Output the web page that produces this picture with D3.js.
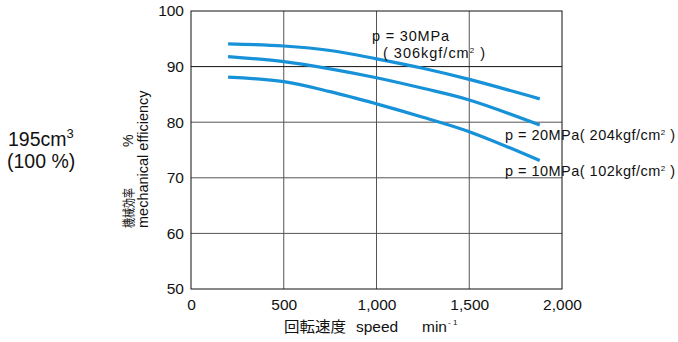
<!DOCTYPE html>
<html><head><meta charset="utf-8">
<script src="https://cdn.jsdelivr.net/npm/d3@7"></script>
<style>body{margin:0;background:#fff}svg{display:block}text{font-family:"Liberation Sans",Arial,sans-serif;fill:#111}</style>
</head><body><svg id="c" width="678" height="342"></svg>
<script>
const speeds = [200, 500, 750, 1000, 1250, 1500, 1880];
const eff30 = [94.1, 93.7, 92.9, 91.4, 89.7, 87.7, 84.2];
const eff20 = [91.8, 90.9, 89.6, 88.0, 86.1, 84.0, 79.5];
const eff10 = [88.1, 87.3, 85.5, 83.3, 80.9, 78.3, 73.1];
const xTicks = [0, 500, 1000, 1500, 2000];
const yTicks = [50, 60, 70, 80, 90, 100];

const svg = d3.select("#c");
const x = d3.scaleLinear().domain([0, 2000]).range([191, 562]);
const y = d3.scaleLinear().domain([50, 100]).range([289, 11]);
const LAT = '"Liberation Sans",Arial,sans-serif';
const CJK = '"Noto Sans CJK JP",sans-serif';

// grid
svg.append("g").selectAll("line").data(xTicks.slice(1, -1)).join("line")
  .attr("x1", d => x(d)).attr("x2", d => x(d)).attr("y1", y(100)).attr("y2", y(50))
  .attr("stroke", "#555").attr("stroke-width", 1);
svg.append("g").selectAll("line").data(yTicks.slice(1, -1)).join("line")
  .attr("x1", x(0)).attr("x2", x(2000)).attr("y1", d => y(d)).attr("y2", d => y(d))
  .attr("stroke", d => d === 90 ? "#111" : "#555").attr("stroke-width", 1);
svg.append("rect").attr("x", x(0)).attr("y", y(100)).attr("width", x(2000) - x(0)).attr("height", y(50) - y(100))
  .attr("fill", "none").attr("stroke", "#111").attr("stroke-width", 1);

// axes (labels only)
const xa = svg.append("g").attr("transform", `translate(0,${y(50)})`)
  .call(d3.axisBottom(x).tickValues(xTicks).tickSize(0).tickPadding(10).tickFormat(d3.format(",")));
const ya = svg.append("g").attr("transform", `translate(${x(0)},0)`)
  .call(d3.axisLeft(y).tickValues(yTicks).tickSize(0).tickPadding(7));
[xa, ya].forEach(a => { a.select(".domain").remove(); a.selectAll("text").style("font-size", "15.5px").attr("fill", "#111").style("font-family", LAT); });

// curves
const line = d3.line().x(d => x(d[0])).y(d => y(d[1])).curve(d3.curveCatmullRom.alpha(0.5));
[eff30, eff20, eff10].forEach(s => {
  svg.append("path").datum(speeds.map((v, i) => [v, s[i]])).attr("d", line)
    .attr("fill", "none").attr("stroke", "#1791d8").attr("stroke-width", 3.2);
});

// curve labels
function lab(tx, ty, len, fs, parts) {
  const t = svg.append("text").attr("x", tx).attr("y", ty).style("font-size", fs + "px")
    .attr("textLength", len).attr("lengthAdjust", "spacing");
  parts.forEach(p => {
    const ts = t.append("tspan").text(p.t);
    if (p.sup) ts.attr("dy", -5).style("font-size", "8px");
    if (p.down) ts.attr("dy", 5);
  });
}
lab(372, 41, 77, 14.5, [{t: "p = 30MPa"}]);
lab(383, 58, 102, 14.5, [{t: "( 306kgf/cm"}, {t: "2", sup: 1}, {t: " )", down: 1}]);
lab(505, 140, 170, 14.5, [{t: "p = 20MPa( 204kgf/cm"}, {t: "2", sup: 1}, {t: " )", down: 1}]);
lab(505, 176, 170, 14.5, [{t: "p = 10MPa( 102kgf/cm"}, {t: "2", sup: 1}, {t: " )", down: 1}]);

// left annotation
const a1 = svg.append("text").attr("x", 8).attr("y", 146).style("font-size", "19.5px");
a1.append("tspan").text("195cm");
a1.append("tspan").text("3").attr("dy", -8).style("font-size", "13px");
svg.append("text").attr("x", 7).attr("y", 168).style("font-size", "19.5px").text("(100 %)");

// y title
svg.append("text").attr("transform", "translate(133,228) rotate(-90)").style("font-size", "13px")
  .style("font-family", CJK).attr("textLength", 40).attr("lengthAdjust", "spacingAndGlyphs").text("機械効率");
svg.append("text").attr("transform", "translate(133,147) rotate(-90)").style("font-size", "14px").text("%");
svg.append("text").attr("transform", "translate(148,228) rotate(-90)").style("font-size", "14.5px").text("mechanical efficiency");

// x title
svg.append("text").attr("x", 284).attr("y", 332).style("font-size", "15px").style("font-family", CJK)
  .attr("textLength", 62).attr("lengthAdjust", "spacingAndGlyphs").text("回転速度");
svg.append("text").attr("x", 356).attr("y", 332).style("font-size", "15.5px").text("speed");
svg.append("text").attr("x", 422).attr("y", 332).style("font-size", "15.5px").text("min");
svg.append("text").attr("x", 448).attr("y", 325).style("font-size", "8px").text("- 1");
</script></body></html>
